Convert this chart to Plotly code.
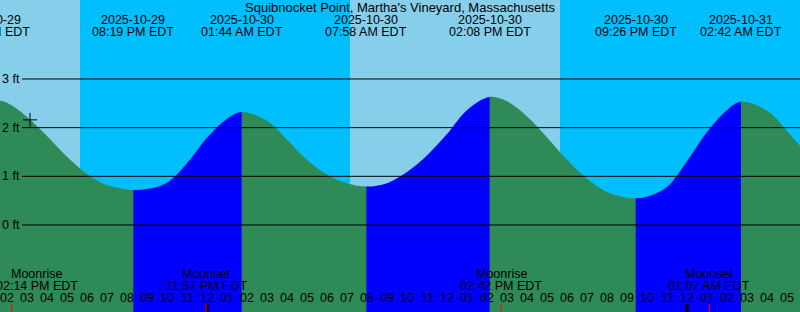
import plotly.graph_objects as go
import pandas as pd

# ---------------- data ----------------
title_text = "Squibnocket Point, Martha's Vineyard, Massachusetts"

# tide curve (time, feet)
curve_times = [
    "2025-10-29 13:05", "2025-10-29 14:00", "2025-10-29 15:00", "2025-10-29 16:00",
    "2025-10-29 17:00", "2025-10-29 18:00", "2025-10-29 19:00", "2025-10-29 20:00",
    "2025-10-29 20:19", "2025-10-29 21:00", "2025-10-29 22:00", "2025-10-29 23:00",
    "2025-10-30 00:00", "2025-10-30 01:00", "2025-10-30 01:44",
    "2025-10-30 03:00", "2025-10-30 04:00", "2025-10-30 05:00", "2025-10-30 06:00",
    "2025-10-30 07:00", "2025-10-30 07:58", "2025-10-30 09:00",
    "2025-10-30 10:00", "2025-10-30 11:00", "2025-10-30 12:00", "2025-10-30 13:00",
    "2025-10-30 14:08", "2025-10-30 15:00", "2025-10-30 16:00",
    "2025-10-30 17:00", "2025-10-30 18:00", "2025-10-30 19:00", "2025-10-30 20:00",
    "2025-10-30 21:00", "2025-10-30 21:26", "2025-10-30 22:00", "2025-10-30 23:00",
    "2025-10-31 00:00", "2025-10-31 01:00", "2025-10-31 02:00", "2025-10-31 02:42",
    "2025-10-31 04:00", "2025-10-31 05:00", "2025-10-31 06:00",
]
curve_feet = [
    2.60, 2.51, 2.22, 1.83,
    1.40, 1.05, 0.82, 0.73,
    0.72, 0.74, 0.87, 1.27,
    1.79, 2.18, 2.32,
    2.14, 1.75, 1.34, 1.03,
    0.86, 0.79, 0.86,
    1.09, 1.43, 1.87, 2.36,
    2.63, 2.54, 2.23,
    1.80, 1.34, 0.95, 0.68,
    0.56, 0.55, 0.58, 0.78,
    1.31, 1.91, 2.36, 2.53,
    2.35, 1.93, 1.45,
]

# tide extremes: time, date label, clock label, type
tide_times = ["2025-10-29 13:05", "2025-10-29 20:19", "2025-10-30 01:44",
              "2025-10-30 07:58", "2025-10-30 14:08", "2025-10-30 21:26",
              "2025-10-31 02:42"]
tide_dates = ["2025-10-29", "2025-10-29", "2025-10-30", "2025-10-30",
              "2025-10-30", "2025-10-30", "2025-10-31"]
tide_clock = ["01:05 PM EDT", "08:19 PM EDT", "01:44 AM EDT", "07:58 AM EDT",
              "02:08 PM EDT", "09:26 PM EDT", "02:42 AM EDT"]
tide_kind = ["high", "low", "high", "low", "high", "low", "high"]

# moon events
moon_times = ["2025-10-29 14:14", "2025-10-29 23:57", "2025-10-30 14:42", "2025-10-31 01:07"]
moon_names = ["Moonrise", "Moonset", "Moonrise", "Moonset"]
moon_clock = ["02:14 PM EDT", "11:57 PM EDT", "02:42 PM EDT", "01:07 AM EDT"]

# night periods (sunset -> sunrise)
night_start = ["2025-10-29 17:39", "2025-10-30 17:39"]
night_end = ["2025-10-30 07:09", "2025-10-31 07:10"]

# current-time marker
now_time = "2025-10-29 15:09"
now_feet = 2.16

# height grid
grid_feet = [0, 1, 2, 3]
grid_labels = ["0 ft", "1 ft", "2 ft", "3 ft"]

# midnights
midnights = ["2025-10-30 00:00", "2025-10-31 00:00"]

# ---------------- styles ----------------
X_START = pd.Timestamp("2025-10-29 13:39")
X_END = pd.Timestamp("2025-10-31 05:39")
Y_MIN, Y_MAX = -1.788, 4.623
DAY = "#87CEEB"
NIGHT = "#00BFFF"
EBB = "#2E8B57"
FLOOD = "#0000FF"
FONT = "Liberation Sans"
W, H = 800, 312
SPAN = (X_END - X_START).total_seconds()
PX_PER_MIN = W / (SPAN / 60.0)


def frac(t):
    return (t - X_START).total_seconds() / SPAN


fig = go.Figure()
layout_axes = {}

# water segments: full smooth curve, each clipped to its own sub-plot (ebb / flood)
ct = pd.to_datetime(curve_times)
tt = pd.to_datetime(tide_times)
bounds = list(tt) + [ct[-1]]
over = pd.Timedelta(minutes=3)  # ~1px overlap to avoid seams
for i in range(len(bounds) - 1):
    a = max(bounds[i], X_START)
    b = min(bounds[i + 1], X_END)
    b2 = min(b + over, X_END)
    k = i + 2
    color = EBB if tide_kind[i] == "high" else FLOOD
    layout_axes[f"xaxis{k}"] = dict(type="date", domain=[frac(a), frac(b2)], range=[a, b2],
                                    anchor="y", visible=False, fixedrange=True)
    fig.add_trace(go.Scatter(x=list(ct), y=[Y_MIN - 1] * len(ct), mode="lines",
                             line=dict(width=0), hoverinfo="skip", showlegend=False,
                             xaxis=f"x{k}", yaxis="y"))
    fig.add_trace(go.Scatter(x=list(ct), y=curve_feet, mode="lines",
                             line=dict(width=0, shape="spline", smoothing=1.0),
                             fill="tonexty", fillcolor=color, hoverinfo="skip", showlegend=False,
                             xaxis=f"x{k}", yaxis="y"))

# now marker (on the first water sub-plot so it is drawn above the water)
fig.add_trace(go.Scatter(x=[now_time], y=[now_feet], mode="markers",
                         marker=dict(symbol="cross-thin", size=10, line=dict(width=1, color="black")),
                         showlegend=False, hoverinfo="skip", xaxis="x2", yaxis="y"))

shapes = []
for s, e in zip(night_start, night_end):
    shapes.append(dict(type="rect", xref="x", yref="paper", x0=s, x1=e, y0=0, y1=1,
                       fillcolor=NIGHT, line=dict(width=0), layer="below"))
for g in grid_feet:
    shapes.append(dict(type="line", xref="paper", yref="y", x0=22 / W, x1=1, y0=g, y1=g,
                       line=dict(color="black", width=1), layer="above"))
for m in midnights:
    shapes.append(dict(type="line", xref="x", yref="paper", x0=m, x1=m, y0=0, y1=8 / H,
                       line=dict(color="black", width=3), layer="above"))
for m in moon_times:
    shapes.append(dict(type="line", xref="x", yref="paper", x0=m, x1=m, y0=0, y1=8 / H,
                       line=dict(color="red", width=1), layer="above"))

ann = []
ann.append(dict(text=title_text, xref="paper", yref="paper", x=0.5, y=1 - 7 / H,
                showarrow=False, font=dict(family=FONT, size=13, color="black"),
                xanchor="center", yanchor="middle", borderpad=0))
for t, d, c in zip(tide_times, tide_dates, tide_clock):
    ts = pd.Timestamp(t)
    shift = 0
    if ts < X_START:
        shift = (ts - X_START).total_seconds() / 60 * PX_PER_MIN
        ts = X_START
    for txt, py in ((d, 20), (c, 32)):
        ann.append(dict(text=txt, xref="x", yref="paper", x=ts, y=1 - py / H, xshift=shift,
                        showarrow=False, font=dict(family=FONT, size=12.5, color="black"),
                        xanchor="center", yanchor="middle", borderpad=0))
for i, (t, n, c) in enumerate(zip(moon_times, moon_names, moon_clock)):
    shift = 25 if i == 0 else 0
    for txt, py in ((n, 273.5), (c, 285.5)):
        ann.append(dict(text=txt, xref="x", yref="paper", x=t, y=1 - py / H, xshift=shift,
                        showarrow=False, font=dict(family=FONT, size=12.5, color="black"),
                        xanchor="center", yanchor="middle", borderpad=0))
for g, lab in zip(grid_feet, grid_labels):
    ann.append(dict(text=lab, xref="paper", yref="y", x=20.5 / W, y=g,
                    showarrow=False, font=dict(family=FONT, size=12.5, color="black"),
                    xanchor="right", yanchor="middle", borderpad=0))

hour_ticks = pd.date_range("2025-10-29 14:00", "2025-10-31 05:00", freq="1h")
hour_labels = [t.strftime("%I") for t in hour_ticks]
for t, lab in zip(hour_ticks, hour_labels):
    ann.append(dict(text=lab, xref="x", yref="paper", x=t, y=1 - 297.5 / H,
                    showarrow=False, font=dict(family=FONT, size=12.5, color="black"),
                    xanchor="center", yanchor="middle", borderpad=0))

fig.update_layout(
    width=W, height=H,
    margin=dict(l=0, r=0, t=0, b=0),
    paper_bgcolor=DAY, plot_bgcolor="rgba(0,0,0,0)",
    showlegend=False,
    shapes=shapes, annotations=ann,
    xaxis=dict(type="date", domain=[0, 1], range=[X_START, X_END], showgrid=False, zeroline=False,
               showline=False, ticks="inside", ticklen=7, tickwidth=1, tickcolor="black",
               tickvals=list(hour_ticks), showticklabels=False, fixedrange=True),
    yaxis=dict(range=[Y_MIN, Y_MAX], domain=[0, 1], anchor="x", showgrid=False, zeroline=False,
               showline=False, showticklabels=False, ticks="", fixedrange=True),
    **layout_axes,
)
fig.write_html("out.html")
